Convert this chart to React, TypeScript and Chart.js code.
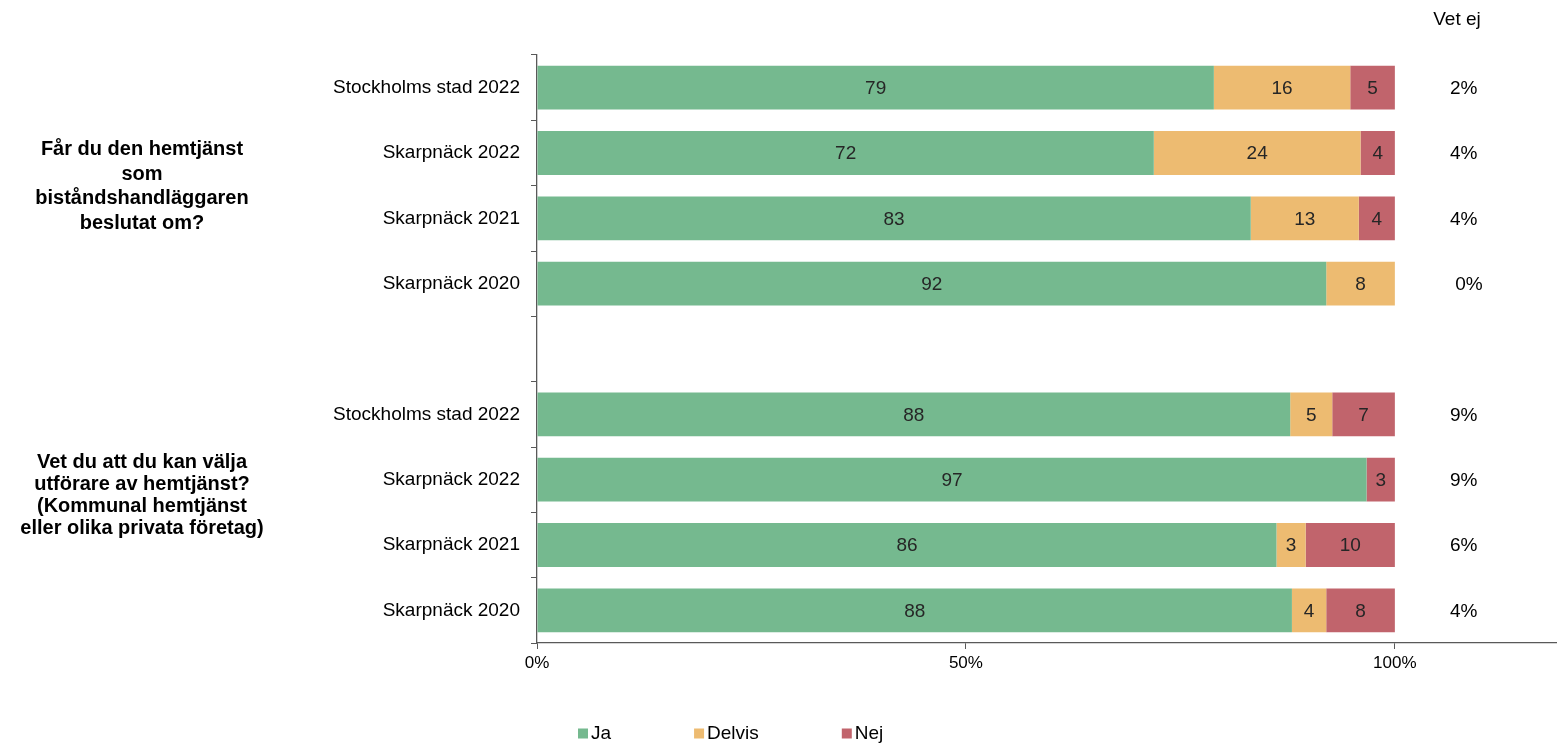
import React, { useEffect, useRef } from 'react';
import { Chart, registerables } from 'chart.js';

Chart.register(...registerables);

const categories = [
  'Stockholms stad 2022',
  'Skarpnäck 2022',
  'Skarpnäck 2021',
  'Skarpnäck 2020',
  '',
  'Stockholms stad 2022',
  'Skarpnäck 2022',
  'Skarpnäck 2021',
  'Skarpnäck 2020',
];
const seriesNames = ['Ja', 'Delvis', 'Nej'];
const jaValues = [78.9, 71.9, 83.2, 92.0, null, 87.8, 96.7, 86.2, 88.0];
const delvisValues = [15.9, 24.1, 12.6, 8.0, null, 4.9, 0, 3.4, 4.0];
const nejValues = [5.2, 4.0, 4.2, 0, null, 7.3, 3.3, 10.4, 8.0];
const vetEjHeader = 'Vet ej';
const vetEjLabels = ['2%', '4%', '4%', ' 0%', '', '9%', '9%', '6%', '4%'];
const xTicks = [0, 50, 100];
const groupLabels = [
  ['Får du den hemtjänst', 'som', 'biståndshandläggaren', 'beslutat om?'],
  ['Vet du att du kan välja', 'utförare av hemtjänst?', '(Kommunal hemtjänst', 'eller olika privata företag)'],
];
const groupRows = [
  [0, 3],
  [5, 8],
];

const colors = ['#75B98F', '#EDBB71', '#C1646C'];
const FONT = "'Liberation Sans', Arial, sans-serif";

const overlayPlugin = {
  id: 'overlay',
  afterDatasetsDraw(chart: any) {
    const ctx = chart.ctx;
    const yScale = chart.scales.y;
    ctx.save();
    // bar value labels
    ctx.font = `19px ${FONT}`;
    ctx.fillStyle = '#262626';
    ctx.textAlign = 'center';
    ctx.textBaseline = 'middle';
    chart.data.datasets.forEach((ds: any, di: number) => {
      const meta = chart.getDatasetMeta(di);
      meta.data.forEach((el: any, i: number) => {
        const v = ds.data[i];
        if (v == null || Math.round(v) === 0) return;
        const c = el.getCenterPoint();
        ctx.fillText(String(Math.round(v)), c.x, c.y + 1);
      });
    });
    // Vet ej column
    ctx.fillStyle = '#000';
    ctx.fillText(vetEjHeader, 1457, 20);
    ctx.textAlign = 'left';
    vetEjLabels.forEach((t, i) => {
      if (!t) return;
      ctx.fillText(t, 1450, yScale.getPixelForValue(i) + 1);
    });
    // group labels
    ctx.textAlign = 'center';
    ctx.font = `bold 20px ${FONT}`;
    groupLabels.forEach((lines, gi) => {
      const [a, b] = groupRows[gi];
      const cy = (yScale.getPixelForValue(a) + yScale.getPixelForValue(b)) / 2 + (gi === 1 ? -17 : 1);
      const lh = gi === 0 ? 24.5 : 22;
      lines.forEach((ln, li) => {
        ctx.fillText(ln, 142, cy + (li - (lines.length - 1) / 2) * lh);
      });
    });
    // legend
    ctx.font = `19px ${FONT}`;
    ctx.textAlign = 'left';
    let x = 578;
    const ly = 733.5;
    seriesNames.forEach((name, i) => {
      ctx.fillStyle = colors[i];
      ctx.fillRect(x, ly - 5, 10, 10);
      ctx.fillStyle = '#000';
      ctx.fillText(name, x + 13, ly);
      x += 13 + ctx.measureText(name).width + 83;
    });
    ctx.restore();
  },
};

export default function App() {
  const ref = useRef<HTMLCanvasElement>(null);
  useEffect(() => {
    if (!ref.current) return;
    const chart = new Chart(ref.current, {
      type: 'bar',
      data: {
        labels: categories,
        datasets: [jaValues, delvisValues, nejValues].map((d, i) => ({
          label: seriesNames[i],
          data: d as any,
          backgroundColor: colors[i],
          borderWidth: 0,
          barPercentage: 0.67,
          categoryPercentage: 1,
        })),
      },
      options: {
        indexAxis: 'y',
        responsive: false,
        animation: false,
        layout: { padding: { top: 55, left: 0, right: 0, bottom: 0 } },
        plugins: { legend: { display: false }, tooltip: { enabled: false } },
        scales: {
          x: {
            stacked: true,
            min: 0,
            max: 118.9,
            afterFit: (s: any) => {
              s.height = 101;
            },
            afterBuildTicks: (s: any) => {
              s.ticks = xTicks.map((v) => ({ value: v }));
            },
            border: { color: '#595959', width: 1.3 },
            grid: { drawOnChartArea: false, drawTicks: true, tickLength: 6, color: '#595959' },
            ticks: {
              callback: (v: any) => v + '%',
              font: { family: FONT, size: 17 },
              color: '#000',
              padding: 4,
              maxRotation: 0,
              autoSkip: false,
            },
          },
          y: {
            stacked: true,
            afterFit: (s: any) => {
              s.width = 537;
            },
            border: { color: '#595959', width: 1.3 },
            grid: { drawOnChartArea: false, offset: true, drawTicks: true, tickLength: 6, color: '#595959' },
            ticks: {
              font: { family: FONT, size: 19 },
              color: '#000',
              padding: 11,
              autoSkip: false,
            },
          },
        },
      },
      plugins: [overlayPlugin],
    });
    return () => chart.destroy();
  }, []);
  return (
    <div style={{ position: 'fixed', left: 0, top: 0, width: 1557, height: 744 }}>
      <canvas ref={ref} width={1557} height={744} style={{ display: 'block' }} />
    </div>
  );
}
